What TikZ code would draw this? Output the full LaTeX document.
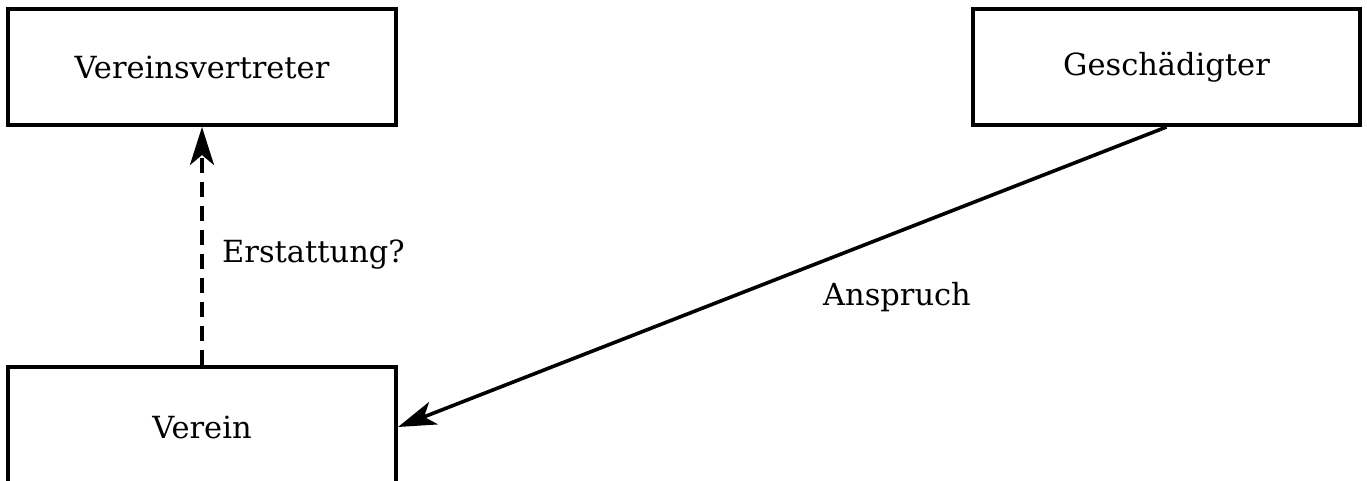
\documentclass[tikz,border=0pt]{standalone}
\usepackage{fontspec}
\setmainfont{DejaVu Serif}
\usetikzlibrary{arrows.meta}
\begin{document}
\begin{tikzpicture}[x=1pt,y=-1pt,
  box/.style={draw, line width=4pt, minimum width=388pt, minimum height=116pt, inner sep=0pt, font=\fontsize{30.5}{34}\selectfont},
  lbl/.style={font=\fontsize{30.5}{34}\selectfont, inner sep=0pt},
  conn/.style={line width=3.6pt, -{Stealth[length=38pt, width=24pt, inset=10pt]}}]
\useasboundingbox (0,0) rectangle (1367,481);
\node[box] (vv) at (202,67) {Vereinsvertreter};
\node[box, minimum width=387pt] (g) at (1166.5,67) {Geschädigter};
\node[box, minimum height=120pt] (v) at (202,427) {Verein};
\draw[conn, dash pattern=on 15pt off 9pt] (v.north) -- (vv.south);
\draw[conn] (g.south) -- (v.east);
\node[lbl, anchor=west] (e) at (222,255) {Erstattung?};
\node[lbl] (a) at (897,297) {Anspruch};
\end{tikzpicture}
\end{document}
